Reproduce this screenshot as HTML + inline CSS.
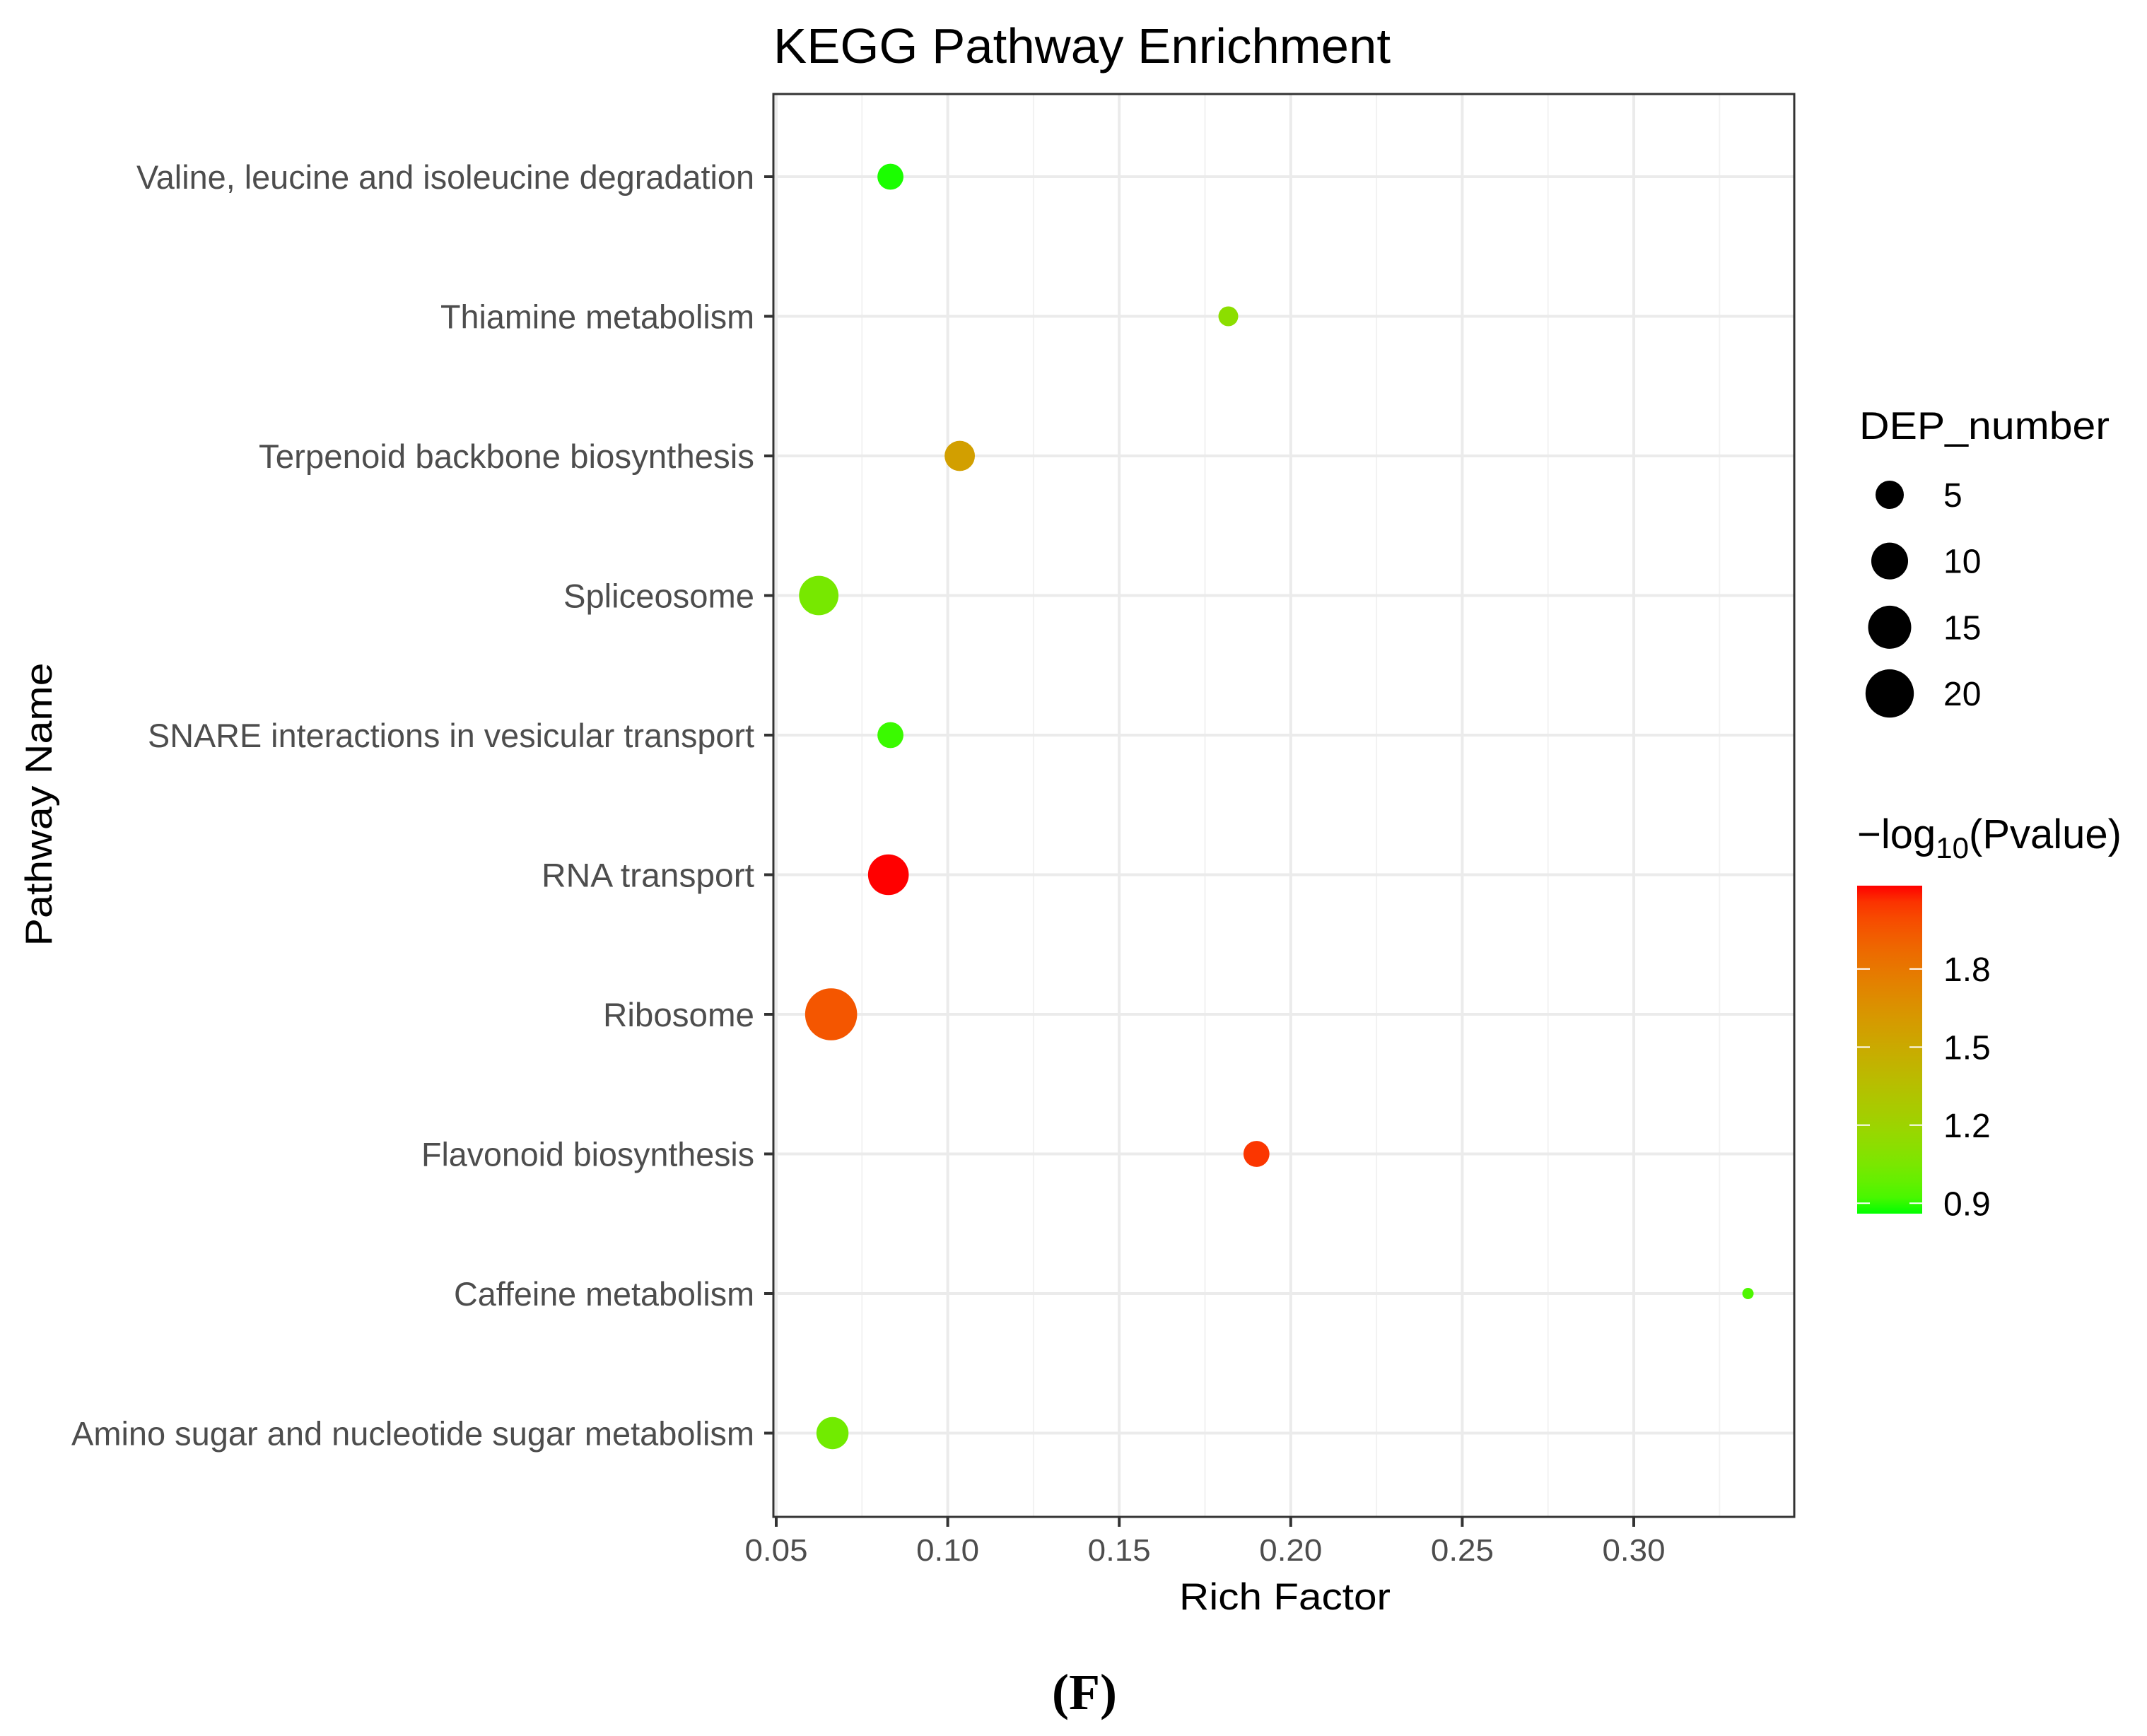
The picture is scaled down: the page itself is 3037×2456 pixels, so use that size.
<!DOCTYPE html>
<html><head><meta charset="utf-8">
<style>
html,body{margin:0;padding:0;background:#fff;}
svg{display:block;font-family:"Liberation Sans",Arial,sans-serif;}
</style></head>
<body>
<svg id="chart" width="3037" height="2456" viewBox="0 0 3037 2456" xmlns="http://www.w3.org/2000/svg">
  <rect width="3037" height="2456" fill="#fff"/>
  <defs>
    <linearGradient id="cbar" x1="0" y1="1" x2="0" y2="0"></linearGradient>
  </defs>
  <g id="grid"></g>
  <g id="points"></g>
  <rect x="1094" y="133" width="1444" height="2013" fill="none" stroke="#333" stroke-width="3"/>
  <g id="yaxis"></g>
  <g id="xaxis"></g>
  <text x="1094" y="89" font-size="70" textLength="873" lengthAdjust="spacingAndGlyphs" fill="#000">KEGG Pathway Enrichment</text>
  <text x="1668" y="2277" font-size="53" textLength="299" lengthAdjust="spacingAndGlyphs" fill="#000">Rich Factor</text>
  <text transform="translate(73,1138) rotate(-90)" text-anchor="middle" font-size="53" textLength="401" lengthAdjust="spacingAndGlyphs" fill="#000">Pathway Name</text>
  <text x="1534" y="2418" text-anchor="middle" font-size="72" font-weight="bold" font-family="Liberation Serif, serif" fill="#000">(F)</text>
  <g id="sizeLegend">
    <text x="2630" y="621" font-size="55" textLength="354" lengthAdjust="spacingAndGlyphs" fill="#000">DEP_number</text>
  </g>
  <g id="colorLegend">
    <text x="2627" y="1200" font-size="58" fill="#000">−log<tspan font-size="42" dy="14">10</tspan><tspan dy="-14">(Pvalue)</tspan></text>
    <rect x="2627" y="1253" width="92" height="464" fill="url(#cbar)"/>
  </g>
</svg>
<script>
const categories = ["Valine, leucine and isoleucine degradation","Thiamine metabolism","Terpenoid backbone biosynthesis","Spliceosome","SNARE interactions in vesicular transport","RNA transport","Ribosome","Flavonoid biosynthesis","Caffeine metabolism","Amino sugar and nucleotide sugar metabolism"];
const richFactor = [0.0833, 0.1818, 0.1035, 0.0624, 0.0833, 0.0827, 0.066, 0.190, 0.3333, 0.0664];
const depNumber = [4, 2, 6, 12, 4, 13, 24, 4, 1, 7];
const negLogP = [0.87, 1.12, 1.57, 1.04, 0.9, 2.12, 1.95, 2.05, 0.93, 1.02];
const xTicks = [0.05, 0.10, 0.15, 0.20, 0.25, 0.30];
const xTickLabels = ["0.05","0.10","0.15","0.20","0.25","0.30"];
const sizeBreaks = [5, 10, 15, 20];
const colorBreaks = [0.9, 1.2, 1.5, 1.8];
const colorLimits = [0.86, 2.12];
const sizeLimits = [1, 24];
const labelWidths = [874, 444, 701, 270, 858, 301, 214, 471, 425, 966];

const NS = "http://www.w3.org/2000/svg";
function el(tag, attrs, parent){const e=document.createElementNS(NS,tag);for(const k in attrs)e.setAttribute(k,attrs[k]);parent.appendChild(e);return e;}
const X = v => 1098 + (v-0.05)/0.05*242.6;
const Y = i => 250 + i*197.5;
const rScale = n => 8 + 28.8*Math.sqrt(Math.max(0,(n-sizeLimits[0])/(sizeLimits[1]-sizeLimits[0])));
function toLin(c){c/=255;return c<=0.04045?c/12.92:Math.pow((c+0.055)/1.055,2.4);}
function fromLin(c){c=c<=0.0031308?12.92*c:1.055*Math.pow(c,1/2.4)-0.055;return Math.round(Math.max(0,Math.min(1,c))*255);}
function rgb2lab(r,g,b){r=toLin(r);g=toLin(g);b=toLin(b);
 let x=(r*0.4124+g*0.3576+b*0.1805)/0.95047,y=(r*0.2126+g*0.7152+b*0.0722),z=(r*0.0193+g*0.1192+b*0.9505)/1.08883;
 const f=t=>t>0.008856?Math.cbrt(t):7.787*t+16/116;x=f(x);y=f(y);z=f(z);return [116*y-16,500*(x-y),200*(y-z)];}
function lab2rgb(L,a,bb){let y=(L+16)/116,x=a/500+y,z=y-bb/200;const fi=t=>t*t*t>0.008856?t*t*t:(t-16/116)/7.787;
 x=fi(x)*0.95047;y=fi(y);z=fi(z)*1.08883;
 const r=x*3.2406+y*-1.5372+z*-0.4986,g=x*-0.9689+y*1.8758+z*0.0415,b=x*0.0557+y*-0.2040+z*1.0570;
 return "rgb("+fromLin(r)+","+fromLin(g)+","+fromLin(b)+")";}
const LOW=rgb2lab(0,255,0), HIGH=rgb2lab(255,0,0);
function colorOf(v){let t=(v-colorLimits[0])/(colorLimits[1]-colorLimits[0]);t=Math.max(0,Math.min(1,t));
 return lab2rgb(LOW[0]+(HIGH[0]-LOW[0])*t,LOW[1]+(HIGH[1]-LOW[1])*t,LOW[2]+(HIGH[2]-LOW[2])*t);}

const grid=document.getElementById('grid');
for(let k=0;k<6;k++){const v=xTicks[k]+0.025;const x=X(v);if(x<2538){
 const l=el('line',{x1:x,x2:x,y1:133,y2:2146,stroke:'#f2f2f2','stroke-width':2},grid);
 
 }}
xTicks.forEach(v=>{const x=X(v);
 const l=el('line',{x1:x,x2:x,y1:133,y2:2146,stroke:'#ebebeb','stroke-width':4},grid);
 
 });
categories.forEach((c,i)=>{const y=Y(i);
 const l=el('line',{x1:1094,x2:2538,y1:y,y2:y,stroke:'#ebebeb','stroke-width':4},grid);
 
 });

const yaxis=document.getElementById('yaxis');
categories.forEach((c,i)=>{const y=Y(i);
 const t=el('text',{x:1067,y:y+17,'text-anchor':'end','font-size':47,fill:'#4d4d4d',textLength:labelWidths[i],lengthAdjust:'spacingAndGlyphs'},yaxis);
 t.textContent=c;
 
 
 const tk=el('line',{x1:1081,x2:1094,y1:y,y2:y,stroke:'#333','stroke-width':4},yaxis);
 
 });

const xaxis=document.getElementById('xaxis');
xTicks.forEach((v,i)=>{const x=X(v);
 const tk=el('line',{x1:x,x2:x,y1:2146,y2:2160,stroke:'#333','stroke-width':4},xaxis);
 
 
 const t=el('text',{x:x,y:2208,'text-anchor':'middle','font-size':44,fill:'#4d4d4d',textLength:89,lengthAdjust:'spacingAndGlyphs'},xaxis);
 t.textContent=xTickLabels[i];
 
 });

const pts=document.getElementById('points');
categories.forEach((c,i)=>{
 const p=el('circle',{cx:X(richFactor[i]),cy:Y(i),r:rScale(depNumber[i]),fill:colorOf(negLogP[i])},pts);
 
 });

const sl=document.getElementById('sizeLegend');
sizeBreaks.forEach((n,i)=>{const cy=700+i*93.7;
 const c=el('circle',{cx:2673,cy:cy,r:rScale(n),fill:'#000'},sl);
 
 
 const t=el('text',{x:2749,y:cy+17,'font-size':48,fill:'#000'},sl);
 t.textContent=String(n);
 
 });

const grad=document.getElementById('cbar');
for(let k=0;k<=20;k++){el('stop',{offset:(k/20),'stop-color':colorOf(colorLimits[0]+(colorLimits[1]-colorLimits[0])*k/20)},grad);}
const cl=document.getElementById('colorLegend');
const CY=v=>1717-(v-colorLimits[0])/(colorLimits[1]-colorLimits[0])*464;
colorBreaks.forEach(v=>{const y=CY(v);
 const a=el('line',{x1:2627,x2:2645,y1:y,y2:y,stroke:'#fff','stroke-width':2},cl);
 
 
 const b=el('line',{x1:2701,x2:2719,y1:y,y2:y,stroke:'#fff','stroke-width':2},cl);
 
 
 const t=el('text',{x:2749,y:y+17,'font-size':48,fill:'#000'},cl);
 t.textContent=v.toFixed(1);
 
 });
</script>
</body></html>
